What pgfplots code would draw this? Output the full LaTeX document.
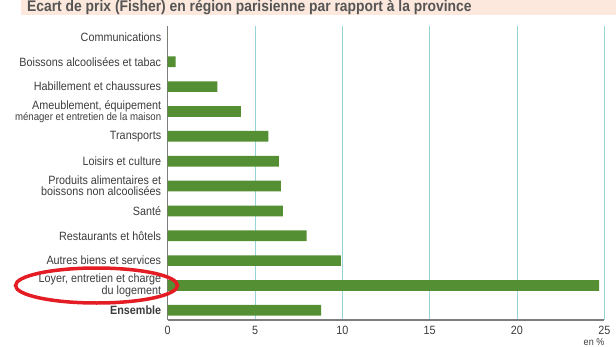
\documentclass[border=0pt]{standalone}
\usepackage{pgfplots}
\pgfplotsset{compat=1.18}
\usepackage{fontspec}
\setmainfont{Liberation Sans}[FakeStretch=0.9]
\definecolor{bargreen}{RGB}{84,143,51}
\definecolor{gridteal}{RGB}{150,212,215}
\definecolor{axgray}{RGB}{125,125,125}
\definecolor{txtgray}{RGB}{60,60,60}
\definecolor{titlebg}{RGB}{252,232,220}
\definecolor{titlegray}{RGB}{85,85,85}
\definecolor{ellred}{RGB}{228,28,36}
\begin{document}
\begin{tikzpicture}[x=1pt,y=1pt]
\useasboundingbox (0,0) rectangle (616,346);
\fill[titlebg] (21,330.5) rectangle (616,346);
\node[anchor=base west, font=\fontsize{15.4}{15.4}\selectfont\bfseries, text=titlegray, inner sep=0] at (27,334) {Ecart de prix (Fisher) en région parisienne par rapport à la province};
\begin{axis}[
  at={(167.7pt,26pt)}, anchor=south west, scale only axis,
  width=436.6pt, height=294pt,
  xbar, bar width=10.7pt,
  xmin=0, xmax=25, ymin=-0.39, ymax=11.44,
  xtick={0,5,...,25},
  ytick={0,...,11},
  yticklabels={
    {\textbf{Ensemble}},
    {Loyer, entretien et charge\\du logement},
    {Autres biens et services},
    {Restaurants et hôtels},
    {Santé},
    {Produits alimentaires et\\boissons non alcoolisées},
    {Loisirs et culture},
    {Transports},
    {Ameublement, équipement\\{\fontsize{10.7}{11}\selectfont ménager et entretien de la maison}},
    {Habillement et chaussures},
    {Boissons alcoolisées et tabac},
    {Communications}},
  axis x line*=bottom, axis y line*=left,
  axis line style={axgray, line width=1.3pt},
  xmajorgrids, grid style={gridteal, line width=0.8pt},
  major tick length=0pt,
  tick label style={font=\fontsize{12}{11}\selectfont, text=txtgray},
  yticklabel style={align=right, xshift=-3pt},
  xticklabel style={yshift=-3pt},
  /pgf/number format/assume math mode=true,
]
\addplot[fill=bargreen, draw=none] coordinates {
  (8.79,0) (24.7,1) (9.91,2) (7.96,3) (6.59,4) (6.48,5)
  (6.37,6) (5.76,7) (4.19,8) (2.85,9) (0.45,10) (0,11)};
\end{axis}
\draw[ellred, line width=3.5pt] (96.5,60.5) ellipse [x radius=81, y radius=17.5];
\node[anchor=south, font=\fontsize{10}{10}\selectfont, text=txtgray, inner sep=0] at (594,0.5) {en \%};
\end{tikzpicture}
\end{document}
